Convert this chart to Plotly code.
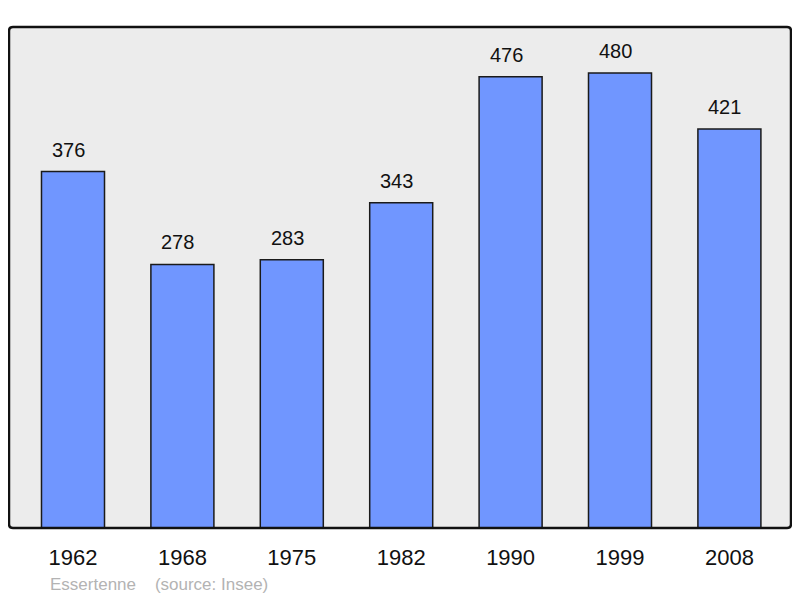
import plotly.graph_objects as go

years = ["1962", "1968", "1975", "1982", "1990", "1999", "2008"]
population = [376, 278, 283, 343, 476, 480, 421]
idx = list(range(len(years)))

FONT = "Liberation Sans, Arial, sans-serif"
W, H = 784, 590          # page body has an 8px margin
PW, PH = 782, 501        # plot area size

fig = go.Figure()
fig.add_trace(go.Bar(
    x=idx, y=population, width=0.576,
    marker=dict(color="#7096ff", line=dict(color="#1a1a1a", width=1.5)),
    hoverinfo="skip",
))
for i, v in zip(idx, population):
    fig.add_annotation(x=i, y=v, text=str(v), showarrow=False, yanchor="middle",
                       yshift=22, xshift=-4.5, font=dict(family=FONT, size=20, color="#111"))

fig.add_annotation(xref="paper", yref="paper", x=(48 - 9) / PW, y=-(584 - 528) / PH,
                   xanchor="left", yanchor="middle", showarrow=False,
                   text="Essertenne\u00a0\u00a0\u00a0\u00a0(source: Insee)",
                   font=dict(family=FONT, size=17, color="#b3b3b3"))

rx, ry = 4 / PW, 4 / PH
path = (f"M {rx},0 L {1-rx},0 Q 1,0 1,{ry} L 1,{1-ry} Q 1,1 {1-rx},1 "
        f"L {rx},1 Q 0,1 0,{1-ry} L 0,{ry} Q 0,0 {rx},0 Z")
fig.add_shape(type="path", xref="paper", yref="paper", path=path,
              line=dict(color="#111", width=2.5))

fig.update_layout(
    width=W, height=H,
    margin=dict(l=1, r=1, t=19, b=H - 19 - PH, pad=0),
    paper_bgcolor="white", plot_bgcolor="#ececec",
    showlegend=False,
    xaxis=dict(range=[-0.585, 6.563], tickvals=idx, ticktext=years, showgrid=False,
               zeroline=False, ticks="outside", ticklen=10, tickcolor="rgba(0,0,0,0)",
               tickfont=dict(family=FONT, size=22, color="#111")),
    yaxis=dict(range=[0, 528.5], showgrid=False, zeroline=False, showticklabels=False),
)
fig.write_html("out.html")
